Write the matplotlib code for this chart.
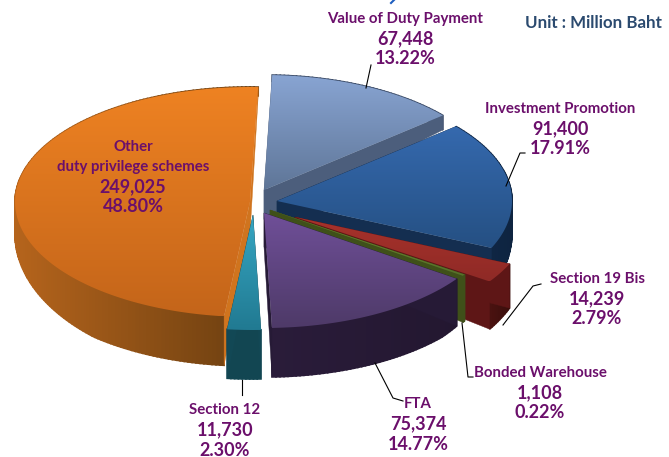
import numpy as np
import matplotlib
matplotlib.use("Agg")
import matplotlib.pyplot as plt
from matplotlib.patches import Polygon

categories = ["Value of Duty Payment", "Investment Promotion", "Section 19 Bis",
              "Bonded Warehouse", "FTA", "Section 12", "Other\nduty privilege schemes"]
values = [67448, 91400, 14239, 1108, 75374, 11730, 249025]
percents = ["13.22%", "17.91%", "2.79%", "0.22%", "14.77%", "2.30%", "48.80%"]

apex_x = [264, 277, 295, 270, 264, 253, 250]
apex_y = [190, 201, 217, 210, 213, 215, 202]
top_c = ["#88A4D2", "#3569AE", "#A8322B", "#6C8C2C", "#6F4F98", "#36A6C2", "#EE8222"]
bot_c = ["#5F7698", "#255083", "#8F2A26", "#56702A", "#4E3A68", "#217A92", "#C4651A"]
cut_c = ["#4C5E7C", "#142E50", "#5E1616", "#3F5019", "#261A36", "#124855", "#D0741E"]
outer_c = ["#3A4A66", "#10294A", "#4A1210", "#3F5019", "#2A1C3A", "#124652", "#B5641C"]
outer_dark = ["#3A4A66", "#0E2440", "#3A0E0C", "#3F5019", "#231730", "#124652", "#6A3E10"]
order = [0, 1, 2, 3, 4, 6, 5]
label_xy = [(405, 19), (560, 109), (597, 279), (540, 373), (418, 404), (225, 410), (133, 147)]
leaders = [[(371, 65), (366, 88)],
           [(525, 153), (520, 153), (506, 186)],
           [(541, 284), (533, 286), (503, 325)],
           [(462, 323), (468, 377), (473, 377)],
           [(375, 363), (393, 398), (403, 401)],
           [(242, 380), (242, 395)],
           ]

A, B = 235, 115
START = 88
PURPLE = "#6B0F6B"
plt.rcParams["font.family"] = ["Lato", "DejaVu Sans"]

fig = plt.figure(figsize=(6.69, 4.57), dpi=100, facecolor="white")
ax = fig.add_axes([0, 0, 1, 1])


def depth(sy):
    return np.clip(15 + (sy - 118) * 0.2, 6, 49)


def rgb(c):
    return np.array(matplotlib.colors.to_rgb(c))


angles = START - np.concatenate([[0], np.cumsum(values)]) / np.sum(values) * 360
for i in order:
    t = np.radians(np.linspace(angles[i], angles[i + 1], max(3, int(abs(angles[i] - angles[i + 1])) + 2)))
    ax_, ay_ = apex_x[i], apex_y[i]
    ox = ax_ + A * np.cos(t)
    oy = ay_ - B * np.sin(t)
    dep = depth(oy)
    d0 = depth(ay_)
    z = order.index(i) * 3
    # outer side
    xmin, xmax = ox.min(), ox.max()
    for k in range(len(t) - 1):
        f = (0.5 * (ox[k] + ox[k + 1]) - xmin) / max(xmax - xmin, 1)
        col = rgb(outer_c[i]) * (1 - f) + rgb(outer_dark[i]) * f
        ax.add_patch(Polygon([(ox[k], oy[k]), (ox[k + 1], oy[k + 1]),
                              (ox[k + 1], oy[k + 1] + dep[k + 1]), (ox[k], oy[k] + dep[k])],
                             fc=col, ec=col, lw=1.2, zorder=z + 1))
    # cut faces
    for ex, ey, ed in [(ox[0], oy[0], dep[0]), (ox[-1], oy[-1], dep[-1])]:
        ax.add_patch(Polygon([(ax_, ay_), (ex, ey), (ex, ey + ed), (ax_, ay_ + d0)],
                             fc=cut_c[i], ec=cut_c[i], lw=0.3, zorder=z + 1.5))
    # top face with vertical gradient
    pts = np.column_stack([np.r_[ax_, ox], np.r_[ay_, oy]])
    patch = Polygon(pts, fc="none", ec="none", zorder=z + 2)
    ax.add_patch(patch)
    y0, y1 = pts[:, 1].min(), pts[:, 1].max()
    x0, x1 = pts[:, 0].min(), pts[:, 0].max()
    s = np.linspace(0, 1, 64)[:, None, None]
    grad = (1 - s) * rgb(top_c[i]) + s * rgb(bot_c[i])
    im = ax.imshow(grad, extent=(x0, x1, y1, y0), aspect="auto", zorder=z + 2,
                   interpolation="bilinear")
    im.set_clip_path(patch)

for seg in leaders:
    xs, ys = zip(*seg)
    ax.plot(xs, ys, color="black", lw=0.8, zorder=40)

for cat, val, pct, (x, y) in zip(categories, values, percents, label_xy):
    parts = cat.split("\n")
    yy = y
    for p in parts:
        ax.text(x, yy, p, color=PURPLE, fontsize=10.8, fontweight="bold", ha="center", va="center", zorder=50)
        yy += 20
    ax.text(x, yy, f"{val:,}", color=PURPLE, fontsize=13, fontweight="bold", ha="center", va="center", zorder=50)
    ax.text(x, yy + 20, pct, color=PURPLE, fontsize=13, fontweight="bold", ha="center", va="center", zorder=50)

ax.text(525, 23, "Unit : Million Baht", color="#2B4A6F", fontsize=12.2, fontweight="bold", ha="left", va="center", zorder=50)
# remnant of the title cropped off at the top edge of the reference
ax.plot([394, 391], [0, 3], color="#1F5FC0", lw=1.5, zorder=50)

ax.set_xlim(0, 669)
ax.set_ylim(457, 0)
ax.axis("off")
fig.savefig("out.png", dpi=100, facecolor="white")
